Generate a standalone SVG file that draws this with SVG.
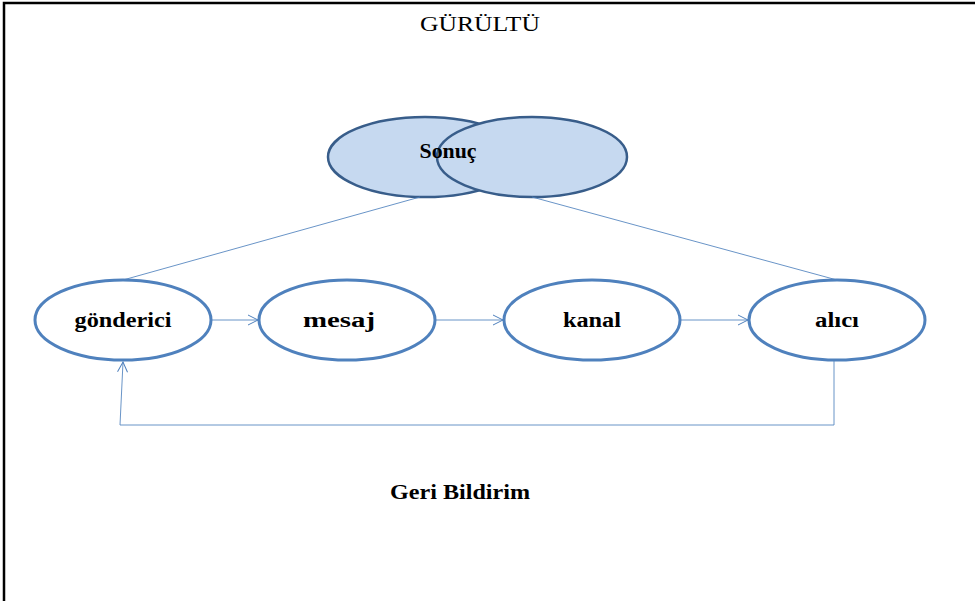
<svg xmlns="http://www.w3.org/2000/svg" width="975" height="601" viewBox="0 0 975 601">
<style>
.node{fill:#fff;stroke:#4F81BD;stroke-width:3}
.sonuc{fill:#C6D9F0;stroke:#385D8A;stroke-width:2.5}
.lbl{font-family:"Liberation Serif","Times New Roman","DejaVu Serif",serif;font-weight:bold;font-size:20px;fill:#000;text-anchor:middle}
.ttl{font-family:"Liberation Serif","Times New Roman","DejaVu Serif",serif;font-size:20px;fill:#000;text-anchor:middle}
.con{fill:none;stroke:#4F81BD;stroke-width:1;stroke-opacity:0.85}
</style>
<defs>
<marker id="arr" viewBox="0 0 12 12" refX="11" refY="6" markerWidth="12" markerHeight="12" markerUnits="userSpaceOnUse" orient="auto">
<path d="M1,1 L11,6 L1,11" fill="none" stroke="#4F81BD" stroke-width="1"/>
</marker>
</defs>
<rect width="975" height="601" fill="#fff"/>
<path d="M4,601 V3 H975" fill="none" stroke="#000" stroke-width="2.5"/>
<text class="ttl" x="480" y="31" textLength="120" lengthAdjust="spacingAndGlyphs">GÜRÜLTÜ</text>
<g id="sonuc">
<ellipse class="sonuc" cx="425" cy="157" rx="97" ry="40"/>
<ellipse class="sonuc" cx="532" cy="157" rx="95" ry="40"/>
<text class="lbl" x="448" y="158" font-size="17" textLength="57" lengthAdjust="spacingAndGlyphs">Sonuç</text>
</g>
<g id="connectors">
<line class="con" x1="420" y1="197" x2="123" y2="280"/>
<line class="con" x1="532" y1="197" x2="837" y2="280"/>
<line class="con" x1="211" y1="320" x2="258" y2="320" marker-end="url(#arr)"/>
<line class="con" x1="435" y1="320" x2="503" y2="320" marker-end="url(#arr)"/>
<line class="con" x1="680" y1="320" x2="748" y2="320" marker-end="url(#arr)"/>
<path class="con" d="M834,361 V425 H120 L123,362" marker-end="url(#arr)"/>
</g>
<g id="gonderici">
<ellipse class="node" cx="123" cy="320" rx="88" ry="40"/>
<text class="lbl" x="123" y="327" textLength="97" lengthAdjust="spacingAndGlyphs">gönderici</text>
</g>
<g id="mesaj">
<ellipse class="node" cx="347" cy="320" rx="88" ry="40"/>
<text class="lbl" x="339" y="327" textLength="72" lengthAdjust="spacingAndGlyphs">mesaj</text>
</g>
<g id="kanal">
<ellipse class="node" cx="592" cy="320" rx="88" ry="40"/>
<text class="lbl" x="592" y="327" textLength="58" lengthAdjust="spacingAndGlyphs">kanal</text>
</g>
<g id="alici">
<ellipse class="node" cx="837" cy="320" rx="88" ry="40"/>
<text class="lbl" x="837" y="327" textLength="44" lengthAdjust="spacingAndGlyphs">alıcı</text>
</g>
<text class="lbl" x="460" y="499" font-size="19" textLength="140" lengthAdjust="spacingAndGlyphs">Geri Bildirim</text>
</svg>
